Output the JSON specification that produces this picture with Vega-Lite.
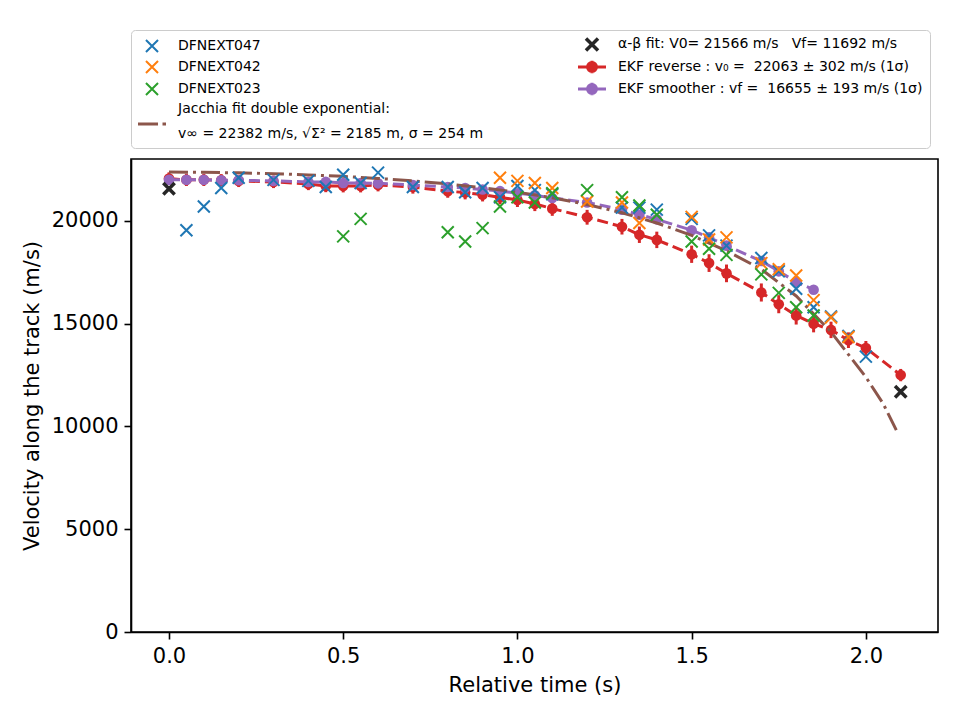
{
  "$schema": "https://vega.github.io/schema/vega-lite/v6.json",
  "width": 807,
  "height": 473,
  "autosize": {"type": "none"},
  "padding": {"left": 131, "top": 159, "right": 22, "bottom": 88},
  "background": "white",
  "config": {
    "font": "DejaVu Sans",
    "view": {"stroke": "black", "strokeWidth": 1.6},
    "axis": {
      "grid": false,
      "domainColor": "black",
      "domainWidth": 1.6,
      "tickColor": "black",
      "tickWidth": 1.6,
      "tickSize": 7,
      "labelFont": "DejaVu Sans",
      "labelFontSize": 21,
      "labelColor": "black",
      "labelPadding": 6,
      "titleFont": "DejaVu Sans",
      "titleFontSize": 21,
      "titleFontWeight": "normal",
      "titleColor": "black"
    }
  },
  "datasets": {
    "obs": [
      {"series": "DFNEXT047", "t": 0.05, "v": 19550},
      {"series": "DFNEXT047", "t": 0.10, "v": 20700},
      {"series": "DFNEXT047", "t": 0.15, "v": 21600},
      {"series": "DFNEXT047", "t": 0.20, "v": 22100},
      {"series": "DFNEXT047", "t": 0.30, "v": 22000},
      {"series": "DFNEXT047", "t": 0.40, "v": 21950},
      {"series": "DFNEXT047", "t": 0.45, "v": 21650},
      {"series": "DFNEXT047", "t": 0.50, "v": 22250},
      {"series": "DFNEXT047", "t": 0.55, "v": 21850},
      {"series": "DFNEXT047", "t": 0.60, "v": 22350},
      {"series": "DFNEXT047", "t": 0.70, "v": 21650},
      {"series": "DFNEXT047", "t": 0.80, "v": 21650},
      {"series": "DFNEXT047", "t": 0.85, "v": 21400},
      {"series": "DFNEXT047", "t": 0.90, "v": 21600},
      {"series": "DFNEXT047", "t": 0.95, "v": 21150},
      {"series": "DFNEXT047", "t": 1.00, "v": 21700},
      {"series": "DFNEXT047", "t": 1.05, "v": 21500},
      {"series": "DFNEXT047", "t": 1.10, "v": 21300},
      {"series": "DFNEXT047", "t": 1.30, "v": 20650},
      {"series": "DFNEXT047", "t": 1.35, "v": 20650},
      {"series": "DFNEXT047", "t": 1.40, "v": 20550},
      {"series": "DFNEXT047", "t": 1.50, "v": 20100},
      {"series": "DFNEXT047", "t": 1.55, "v": 19300},
      {"series": "DFNEXT047", "t": 1.60, "v": 18800},
      {"series": "DFNEXT047", "t": 1.70, "v": 18200},
      {"series": "DFNEXT047", "t": 1.75, "v": 17550},
      {"series": "DFNEXT047", "t": 1.80, "v": 16700},
      {"series": "DFNEXT047", "t": 1.85, "v": 15800},
      {"series": "DFNEXT047", "t": 1.90, "v": 15350},
      {"series": "DFNEXT047", "t": 1.95, "v": 14400},
      {"series": "DFNEXT047", "t": 2.00, "v": 13400},
      {"series": "DFNEXT042", "t": 0.95, "v": 22100},
      {"series": "DFNEXT042", "t": 1.00, "v": 21950},
      {"series": "DFNEXT042", "t": 1.05, "v": 21850},
      {"series": "DFNEXT042", "t": 1.10, "v": 21600},
      {"series": "DFNEXT042", "t": 1.20, "v": 20950},
      {"series": "DFNEXT042", "t": 1.30, "v": 20900},
      {"series": "DFNEXT042", "t": 1.35, "v": 19900},
      {"series": "DFNEXT042", "t": 1.50, "v": 20200},
      {"series": "DFNEXT042", "t": 1.55, "v": 19100},
      {"series": "DFNEXT042", "t": 1.60, "v": 19200},
      {"series": "DFNEXT042", "t": 1.70, "v": 17950},
      {"series": "DFNEXT042", "t": 1.75, "v": 17650},
      {"series": "DFNEXT042", "t": 1.80, "v": 17350},
      {"series": "DFNEXT042", "t": 1.85, "v": 16150},
      {"series": "DFNEXT042", "t": 1.90, "v": 15300},
      {"series": "DFNEXT042", "t": 1.95, "v": 14350},
      {"series": "DFNEXT023", "t": 0.50, "v": 19250},
      {"series": "DFNEXT023", "t": 0.55, "v": 20100},
      {"series": "DFNEXT023", "t": 0.80, "v": 19450},
      {"series": "DFNEXT023", "t": 0.85, "v": 19000},
      {"series": "DFNEXT023", "t": 0.90, "v": 19650},
      {"series": "DFNEXT023", "t": 0.95, "v": 20700},
      {"series": "DFNEXT023", "t": 1.00, "v": 21150},
      {"series": "DFNEXT023", "t": 1.05, "v": 20900},
      {"series": "DFNEXT023", "t": 1.10, "v": 21350},
      {"series": "DFNEXT023", "t": 1.20, "v": 21500},
      {"series": "DFNEXT023", "t": 1.30, "v": 21150},
      {"series": "DFNEXT023", "t": 1.35, "v": 20750},
      {"series": "DFNEXT023", "t": 1.40, "v": 20300},
      {"series": "DFNEXT023", "t": 1.50, "v": 19000},
      {"series": "DFNEXT023", "t": 1.55, "v": 18650},
      {"series": "DFNEXT023", "t": 1.60, "v": 18350},
      {"series": "DFNEXT023", "t": 1.70, "v": 17400},
      {"series": "DFNEXT023", "t": 1.75, "v": 16500},
      {"series": "DFNEXT023", "t": 1.80, "v": 15800},
      {"series": "DFNEXT023", "t": 1.85, "v": 15400}
    ],
    "ekf_reverse": [
      {"t": 0.00, "v": 22063, "err": 302},
      {"t": 0.05, "v": 22000, "err": 300},
      {"t": 0.10, "v": 22000, "err": 300},
      {"t": 0.15, "v": 21980, "err": 300},
      {"t": 0.20, "v": 21950, "err": 300},
      {"t": 0.30, "v": 21900, "err": 300},
      {"t": 0.40, "v": 21800, "err": 300},
      {"t": 0.45, "v": 21700, "err": 300},
      {"t": 0.50, "v": 21700, "err": 310},
      {"t": 0.55, "v": 21700, "err": 310},
      {"t": 0.60, "v": 21750, "err": 310},
      {"t": 0.70, "v": 21650, "err": 320},
      {"t": 0.80, "v": 21450, "err": 320},
      {"t": 0.85, "v": 21380, "err": 330},
      {"t": 0.90, "v": 21280, "err": 330},
      {"t": 0.95, "v": 21150, "err": 340},
      {"t": 1.00, "v": 21020, "err": 340},
      {"t": 1.05, "v": 20830, "err": 350},
      {"t": 1.10, "v": 20600, "err": 350},
      {"t": 1.20, "v": 20180, "err": 360},
      {"t": 1.30, "v": 19720, "err": 380},
      {"t": 1.35, "v": 19330, "err": 400},
      {"t": 1.40, "v": 19080, "err": 400},
      {"t": 1.50, "v": 18380, "err": 420},
      {"t": 1.55, "v": 17950, "err": 430},
      {"t": 1.60, "v": 17450, "err": 430},
      {"t": 1.70, "v": 16520, "err": 440},
      {"t": 1.75, "v": 15950, "err": 440},
      {"t": 1.80, "v": 15400, "err": 440},
      {"t": 1.85, "v": 15000, "err": 420},
      {"t": 1.90, "v": 14700, "err": 400},
      {"t": 1.95, "v": 14200, "err": 380},
      {"t": 2.00, "v": 13820, "err": 340},
      {"t": 2.10, "v": 12500, "err": 300}
    ],
    "ekf_smoother": [
      {"t": 0.00, "v": 22000, "err": 193},
      {"t": 0.05, "v": 22000, "err": 193},
      {"t": 0.10, "v": 22000, "err": 193},
      {"t": 0.15, "v": 21980, "err": 193},
      {"t": 0.20, "v": 21980, "err": 193},
      {"t": 0.30, "v": 21950, "err": 193},
      {"t": 0.40, "v": 21900, "err": 193},
      {"t": 0.45, "v": 21900, "err": 193},
      {"t": 0.50, "v": 21850, "err": 193},
      {"t": 0.55, "v": 21850, "err": 193},
      {"t": 0.60, "v": 21830, "err": 193},
      {"t": 0.70, "v": 21750, "err": 193},
      {"t": 0.80, "v": 21650, "err": 193},
      {"t": 0.85, "v": 21600, "err": 193},
      {"t": 0.90, "v": 21530, "err": 193},
      {"t": 0.95, "v": 21450, "err": 193},
      {"t": 1.00, "v": 21350, "err": 193},
      {"t": 1.05, "v": 21250, "err": 193},
      {"t": 1.10, "v": 21120, "err": 193},
      {"t": 1.20, "v": 20900, "err": 193},
      {"t": 1.30, "v": 20550, "err": 193},
      {"t": 1.35, "v": 20300, "err": 193},
      {"t": 1.40, "v": 20080, "err": 193},
      {"t": 1.50, "v": 19550, "err": 193},
      {"t": 1.55, "v": 19200, "err": 193},
      {"t": 1.60, "v": 18800, "err": 193},
      {"t": 1.70, "v": 18050, "err": 193},
      {"t": 1.75, "v": 17550, "err": 193},
      {"t": 1.80, "v": 17030, "err": 193},
      {"t": 1.85, "v": 16655, "err": 193}
    ],
    "jacchia": [
      {"t": 0.00, "v": 22382},
      {"t": 0.10, "v": 22370},
      {"t": 0.20, "v": 22340},
      {"t": 0.30, "v": 22300},
      {"t": 0.40, "v": 22240},
      {"t": 0.50, "v": 22170},
      {"t": 0.60, "v": 22070},
      {"t": 0.70, "v": 21950},
      {"t": 0.80, "v": 21800},
      {"t": 0.90, "v": 21620},
      {"t": 1.00, "v": 21400},
      {"t": 1.10, "v": 21130},
      {"t": 1.20, "v": 20800},
      {"t": 1.30, "v": 20400},
      {"t": 1.40, "v": 19900},
      {"t": 1.50, "v": 19300},
      {"t": 1.60, "v": 18550},
      {"t": 1.70, "v": 17650},
      {"t": 1.80, "v": 16350},
      {"t": 1.90, "v": 14600},
      {"t": 2.00, "v": 12400},
      {"t": 2.05, "v": 11100},
      {"t": 2.09, "v": 9730}
    ],
    "alpha_beta": [
      {"t": 0.0, "v": 21566},
      {"t": 2.1, "v": 11692}
    ]
  },
  "encoding": {
    "x": {
      "field": "t",
      "type": "quantitative",
      "scale": {"domain": [-0.109, 2.207], "nice": false, "zero": false},
      "axis": {"values": [0, 0.5, 1, 1.5, 2], "format": ".1f", "title": "Relative time (s)", "titlePadding": 8, "labelFontSize": 21, "titleFontSize": 21}
    },
    "y": {
      "field": "v",
      "type": "quantitative",
      "scale": {"domain": [0, 23015], "nice": false},
      "axis": {"values": [0, 5000, 10000, 15000, 20000], "format": "d", "title": "Velocity along the track (m/s)", "titlePadding": 9, "labelFontSize": 21, "titleFontSize": 21}
    }
  },
  "layer": [
    {
      "data": {"name": "ekf_reverse"},
      "mark": {"type": "errorbar", "ticks": false, "color": "#d62728", "rule": {"strokeWidth": 3}},
      "encoding": {"yError": {"field": "err"}}
    },
    {
      "data": {"name": "ekf_reverse"},
      "mark": {"type": "line", "color": "#d62728", "strokeWidth": 3, "strokeDash": [11, 5]}
    },
    {
      "data": {"name": "ekf_reverse"},
      "mark": {"type": "point", "shape": "circle", "filled": true, "color": "#d62728", "size": 113, "opacity": 1}
    },
    {
      "data": {"name": "ekf_smoother"},
      "mark": {"type": "errorbar", "ticks": false, "color": "#9467bd", "rule": {"strokeWidth": 3}},
      "encoding": {"yError": {"field": "err"}}
    },
    {
      "data": {"name": "ekf_smoother"},
      "mark": {"type": "line", "color": "#9467bd", "strokeWidth": 3, "strokeDash": [11, 5]}
    },
    {
      "data": {"name": "ekf_smoother"},
      "mark": {"type": "point", "shape": "circle", "filled": true, "color": "#9467bd", "size": 113, "opacity": 1}
    },
    {
      "data": {"name": "jacchia"},
      "mark": {"type": "line", "color": "#8c564b", "strokeWidth": 3, "strokeDash": [19, 5, 3, 5]}
    },
    {
      "data": {"name": "obs"},
      "mark": {"type": "point", "shape": "M-1,-1L1,1M-1,1L1,-1", "filled": false, "size": 144, "strokeWidth": 2, "opacity": 1},
      "encoding": {
        "color": {
          "field": "series",
          "type": "nominal",
          "scale": {
            "domain": ["DFNEXT047", "DFNEXT042", "DFNEXT023", "Jacchia", "alpha-beta", "EKF reverse", "EKF smoother"],
            "range": ["#1f77b4", "#ff7f0e", "#2ca02c", "#8c564b", "#262626", "#d62728", "#9467bd"]
          },
          "legend": {
            "title": null,
            "orient": "none",
            "legendX": 0,
            "legendY": -129,
            "direction": "vertical",
            "columns": 2,
            "columnPadding": 88,
            "rowPadding": -4,
            "padding": 7,
            "strokeColor": "#cccccc",
            "fillColor": "white",
            "cornerRadius": 4,
            "symbolSize": 784,
            "symbolOpacity": 1,
            "labelFont": "DejaVu Sans",
            "labelFontSize": 14,
            "labelColor": "black",
            "labelLimit": 500,
            "labelOffset": 26,
            "labelExpr": "datum.value == 'Jacchia' ? ['Jacchia fit double exponential:', '\u2003v∞ = 22382 m/s, √Σ² = 2185 m, σ = 254 m'] : datum.value == 'alpha-beta' ? 'α-β fit: V0= 21566 m/s \u00a0 Vf= 11692 m/s' : datum.value == 'EKF reverse' ? 'EKF reverse : v₀ = \u00a022063 ± 302 m/s (1σ)' : datum.value == 'EKF smoother' ? 'EKF smoother : vf = \u00a016655 ± 193 m/s (1σ)\u00a0\u00a0\u00a0\u00a0\u00a0\u00a0' : datum.label",
            "encoding": {
              "labels": {"lineHeight": {"value": {"expr": "datum.value == 'Jacchia' ? 25 : 17"}}},
              "symbols": {
                "shape": {"value": {"expr": "datum.value == 'Jacchia' ? 'M-0.5,1.07H0.93M1.25,1.07H1.5' : (datum.value == 'EKF reverse' || datum.value == 'EKF smoother') ? 'M-0.5,0H1.5M0.5,-0.45V0.45M0.18,0A0.32,0.32 0 1,0 0.82,0A0.32,0.32 0 1,0 0.18,0Z' : 'M0.07,-0.43L0.93,0.43M0.07,0.43L0.93,-0.43'"}},
                "stroke": {"value": {"expr": "scale('color', datum.value)"}},
                "fill": {"value": {"expr": "scale('color', datum.value)"}},
                "strokeWidth": {"value": {"expr": "datum.value == 'alpha-beta' ? 3.5 : (datum.value == 'Jacchia' || datum.value == 'EKF reverse' || datum.value == 'EKF smoother') ? 3 : 2"}},
                "opacity": {"value": 1}
              }
            }
          }
        }
      }
    },
    {
      "data": {"name": "alpha_beta"},
      "mark": {"type": "point", "shape": "M-1,-1L1,1M-1,1L1,-1", "filled": false, "color": "#262626", "size": 130, "strokeWidth": 3.5, "opacity": 1}
    }
  ]
}
